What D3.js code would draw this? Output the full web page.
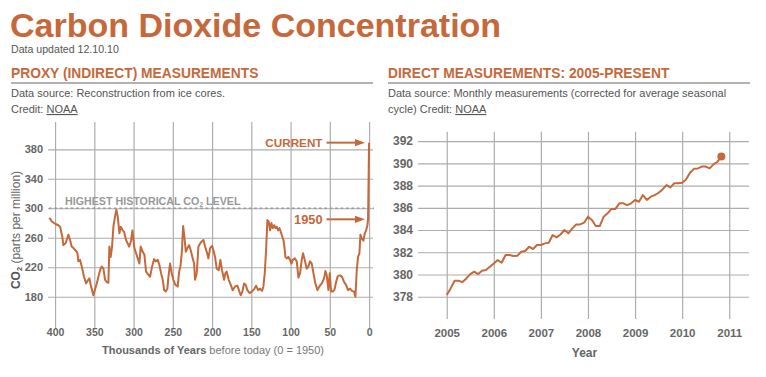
<!DOCTYPE html>
<html><head><meta charset="utf-8">
<script src="https://cdn.jsdelivr.net/npm/d3@7"></script>
<style>
body{margin:0;background:#fff;}
text{font-family:"Liberation Sans",Arial,Helvetica,sans-serif;}
</style></head>
<body><svg id="c" width="766" height="377"></svg>
<script>
// ---- Data ----
// Proxy (ice core) record: thousands of years before 1950, CO2 ppm
const proxyKyr = [407.6,406.4,404.2,400,395.8,393.6,390.7,389.4,386.4,383.0,380.9,378.8,376.6,373.2,371.5,370.3,368.2,366.0,363.1,360.5,358.4,356.3,354.6,351.2,346.9,342.7,340.6,338.4,336.3,334.2,332.1,330.8,329.1,327.4,325.7,323.6,321.9,320.2,318.0,316.3,313.8,312.1,309.6,307.4,305.7,303.2,301.5,300.1,298.9,296.8,294.7,292.6,290.9,288.3,286.2,284.1,282.0,279.0,276.4,273.9,271.8,269.2,267.1,265.0,262.8,261.1,259.0,256.9,255.6,253.5,251.4,249.3,246.7,243.7,242.0,240.3,238.6,236.9,235.2,233.5,231.4,229.3,227.2,225.1,222.9,221.7,219.5,217.4,215.3,213.2,211.0,208.9,206.8,204.7,202.5,200.0,198.3,196.2,194.1,191.5,189.4,187.3,184.7,183.0,181.3,178.8,176.2,173.7,170.7,167.7,165.2,163.5,161.4,159.2,157.1,155.0,152.4,149.5,146.5,144.0,141.4,138.9,136.3,134.6,132.9,131.2,129.5,127.8,126.1,124.4,122.7,121.0,119.3,117.6,115.9,114.2,112.5,111.3,109.1,107.9,106.6,104.9,102.8,100.6,98.9,97.2,94.7,92.1,90.0,87.9,85.8,84.1,82.0,79.4,77.3,75.2,73.0,70.9,68.4,65.8,63.3,60.3,57.3,55.6,53.9,51.8,50.1,48.4,46.3,44.2,42.0,39.9,36.9,34.4,31.8,29.3,26.8,24.2,21.7,19.1,17.4,15.7,14.0,12.3,11.0,9.3,7.2,5.5,3.8,2.1,1.3,0];
const proxyPpm = [285,286,282,279,277,275,261,250,253,264,257,248,246,242,239,228,230,221,207,198,202,205,196,182,198,216,221,218,203,200,199,248,234,248,275,289,298,289,266,275,270,268,257,252,248,256,270,257,246,239,232,225,248,241,237,214,211,207,221,231,228,230,223,212,203,189,187,191,207,225,212,203,196,194,214,221,239,276,261,241,246,250,243,234,225,203,212,248,252,255,257,248,241,232,246,249,243,234,218,216,230,216,203,212,214,203,196,189,194,195,187,182,187,198,196,189,185,187,190,195,189,191,188,194,212,243,284,282,270,280,273,277,273,275,270,273,268,264,257,248,234,232,234,230,225,230,232,228,206,212,230,239,230,218,221,228,225,212,198,189,194,198,205,215,209,189,212,187,187,189,200,208,209,207,200,196,189,191,188,187,180,216,234,239,264,259,256,266,270,277,285,389];
const proxyXTicks = [400,350,300,250,200,150,100,50,0];
const proxyYTicks = [180,220,260,300,340,380];
const historicalMax = 300;
const proxy1950 = 285, proxyCurrent = 389;

// Direct (monthly) measurements, Jan 2005 onward, CO2 ppm
const directStartYear = 2005;
const directPpm = [378.15,378.75,379.44,379.44,379.32,379.65,380.04,380.25,380.04,380.34,380.40,380.70,
381.0,381.3,381.06,381.75,381.75,381.66,381.69,382.05,382.11,382.5,382.29,382.65,
382.65,382.8,382.86,383.55,383.34,383.6,384.0,383.7,384.15,384.5,384.5,384.66,
385.2,384.9,384.36,384.36,385.2,385.5,385.9,385.9,386.4,386.4,386.24,386.4,
386.7,386.54,387.14,386.7,387.0,387.14,387.35,387.65,388.04,387.83,388.2,388.2,
388.25,388.55,389.15,389.5,389.54,389.7,389.7,389.54,389.9,390.14,390.6];
const directXTicks = [2005,2006,2007,2008,2009,2010,2011];
const directYTicks = [378,380,382,384,386,388,390,392];

// ---- Drawing ----
const ORANGE = "#c5693b", GRID = "#adadad", TXT = "#555";
const svg = d3.select("#c");

// Header
svg.append("text").attr("x",10).attr("y",37).attr("font-size",34).attr("font-weight","bold")
  .attr("fill",ORANGE).text("Carbon Dioxide Concentration");
svg.append("text").attr("x",11).attr("y",52.5).attr("font-size",10.6).attr("fill",TXT).text("Data updated 12.10.10");

function section(x, x2, title, lines){
  svg.append("text").attr("x",x).attr("y",78).attr("font-size",13.8).attr("font-weight","bold")
    .attr("fill",ORANGE).text(title);
  svg.append("line").attr("x1",x).attr("x2",x2).attr("y1",83).attr("y2",83)
    .attr("stroke","#666").attr("stroke-width",1.2);
  lines.forEach((l,i)=>{
    const t = svg.append("text").attr("x",x).attr("y",97+i*16).attr("font-size",11).attr("fill",TXT);
    t.append("tspan").text(l[0]);
    if(l[1]) t.append("tspan").attr("text-decoration","underline").text(l[1]);
  });
}
section(11, 373, "PROXY (INDIRECT) MEASUREMENTS", [["Data source: Reconstruction from ice cores."],["Credit: ","NOAA"]]);
section(388, 750, "DIRECT MEASUREMENTS: 2005-PRESENT", [["Data source: Monthly measurements (corrected for average seasonal"],["cycle) Credit: ","NOAA"]]);

// ---- Left chart ----
const L = {l:48, r:373, t:122, b:328};
const xL = d3.scaleLinear().domain([409,-5]).range([L.l,L.r]);
const yL = d3.scaleLinear().domain([137.6,417]).range([L.b,L.t]);
const gL = svg.append("g");

gL.append("g").attr("transform",`translate(0,${L.b})`)
  .call(d3.axisBottom(xL).tickValues(proxyXTicks).tickSize(-(L.b-L.t)).tickFormat(""))
  .call(g=>{g.select(".domain").remove(); g.selectAll("line").attr("stroke",GRID).attr("stroke-width",1.2);});
gL.append("g").attr("transform",`translate(${L.l},0)`)
  .call(d3.axisLeft(yL).tickValues(proxyYTicks).tickSize(-(L.r-L.l)).tickFormat(""))
  .call(g=>{g.select(".domain").remove(); g.selectAll("line").attr("stroke",GRID).attr("stroke-width",1.2);});

// tick labels
gL.append("g").attr("transform",`translate(0,${L.b})`)
  .call(d3.axisBottom(xL).tickValues(proxyXTicks).tickSize(0).tickPadding(1))
  .call(g=>{g.select(".domain").remove(); g.selectAll("text").attr("font-size",10.5).attr("font-weight","bold")
     .attr("fill","#666").attr("font-family","Liberation Sans, Arial, sans-serif");});
gL.append("g").attr("transform",`translate(${L.l},0)`)
  .call(d3.axisLeft(yL).tickValues(proxyYTicks).tickSize(0).tickPadding(5))
  .call(g=>{g.select(".domain").remove(); g.selectAll("text").attr("font-size",11).attr("font-weight","bold")
     .attr("fill","#666").attr("font-family","Liberation Sans, Arial, sans-serif");});

// historical max
gL.append("line").attr("x1",L.l+1).attr("x2",L.r+1).attr("y1",yL(historicalMax)).attr("y2",yL(historicalMax))
  .attr("stroke","#999").attr("stroke-width",1.6).attr("stroke-dasharray","2.7,2.7");
const hm = gL.append("text").attr("x",65).attr("y",yL(historicalMax)-3.5).attr("font-size",10.7)
  .attr("font-weight","bold").attr("fill","#999");
hm.append("tspan").text("HIGHEST HISTORICAL CO");
hm.append("tspan").attr("font-size",6.5).attr("dy",2).text("2");
hm.append("tspan").attr("dy",-2).text(" LEVEL");

// line
const proxyData = proxyKyr.map((k,i)=>({k, v:proxyPpm[i]}));
gL.append("path").datum(proxyData)
  .attr("d", d3.line().x(d=>xL(d.k)).y(d=>yL(d.v)))
  .attr("fill","none").attr("stroke",ORANGE).attr("stroke-width",2).attr("stroke-linejoin","round");

// annotations
function arrow(yv, label, fs){
  const y = yL(yv);
  gL.append("line").attr("x1",326.5).attr("x2",358).attr("y1",y).attr("y2",y)
    .attr("stroke",ORANGE).attr("stroke-width",2);
  gL.append("path").attr("d",`M355,${y-3.6}L365,${y}L355,${y+3.6}Z`).attr("fill",ORANGE);
  gL.append("text").attr("x",322.5).attr("y",y+fs*0.34).attr("text-anchor","end")
    .attr("font-size",fs).attr("font-weight","bold").attr("fill",ORANGE).text(label);
}
arrow(proxyCurrent, "CURRENT", 11.7);
arrow(proxy1950, "1950", 12.8);

// axis titles
const yt = svg.append("text").attr("transform",`translate(19.5,230) rotate(-90)`).attr("text-anchor","middle")
  .attr("font-size",12).attr("fill",TXT);
yt.append("tspan").attr("font-weight","bold").text("CO");
yt.append("tspan").attr("font-weight","bold").attr("font-size",7.5).attr("dy",2.5).text("2");
yt.append("tspan").attr("dy",-2.5).attr("fill","#666").text(" (parts per million)");

const xt = svg.append("text").attr("x",213).attr("y",353.5).attr("text-anchor","middle").attr("font-size",11);
xt.append("tspan").attr("font-weight","bold").attr("fill","#666").text("Thousands of Years");
xt.append("tspan").attr("fill","#777").text(" before today (0 = 1950)");

// ---- Right chart ----
const R = {l:418, r:749, t:131.7, b:319};
const xR = d3.scaleLinear().domain([2004.39,2011.42]).range([R.l,R.r]);
const yR = d3.scaleLinear().domain([376,392.84]).range([R.b,R.t]);
const gR = svg.append("g");
gR.append("g").attr("transform",`translate(0,${R.b})`)
  .call(d3.axisBottom(xR).tickValues(directXTicks).tickSize(-(R.b-R.t)).tickFormat(""))
  .call(g=>{g.select(".domain").remove(); g.selectAll("line").attr("stroke",GRID).attr("stroke-width",1.2);});
gR.append("g").attr("transform",`translate(${R.l},0)`)
  .call(d3.axisLeft(yR).tickValues(directYTicks).tickSize(-(R.r-R.l)).tickFormat(""))
  .call(g=>{g.select(".domain").remove(); g.selectAll("line").attr("stroke",GRID).attr("stroke-width",1.2);});

gR.append("g").attr("transform",`translate(0,${R.b})`)
  .call(d3.axisBottom(xR).tickValues(directXTicks).tickSize(0).tickPadding(10).tickFormat(d3.format("d")))
  .call(g=>{g.select(".domain").remove(); g.selectAll("text").attr("font-size",11.5).attr("font-weight","bold")
     .attr("fill","#666").attr("font-family","Liberation Sans, Arial, sans-serif");});
gR.append("g").attr("transform",`translate(${R.l},0)`)
  .call(d3.axisLeft(yR).tickValues(directYTicks).tickSize(0).tickPadding(5))
  .call(g=>{g.select(".domain").remove(); g.selectAll("text").attr("font-size",12).attr("font-weight","bold")
     .attr("fill","#666").attr("font-family","Liberation Sans, Arial, sans-serif");});

const directData = directPpm.map((v,i)=>({t: directStartYear + i/12, v}));
gR.append("path").datum(directData)
  .attr("d", d3.line().x(d=>xR(d.t)).y(d=>yR(d.v)))
  .attr("fill","none").attr("stroke",ORANGE).attr("stroke-width",2).attr("stroke-linejoin","round");
const last = directData[directData.length-1];
gR.append("circle").attr("cx",xR(last.t)).attr("cy",yR(last.v)).attr("r",4).attr("fill",ORANGE);

svg.append("text").attr("x",584.5).attr("y",357).attr("text-anchor","middle").attr("font-size",12)
  .attr("font-weight","bold").attr("fill","#666").text("Year");
</script>
</body></html>
